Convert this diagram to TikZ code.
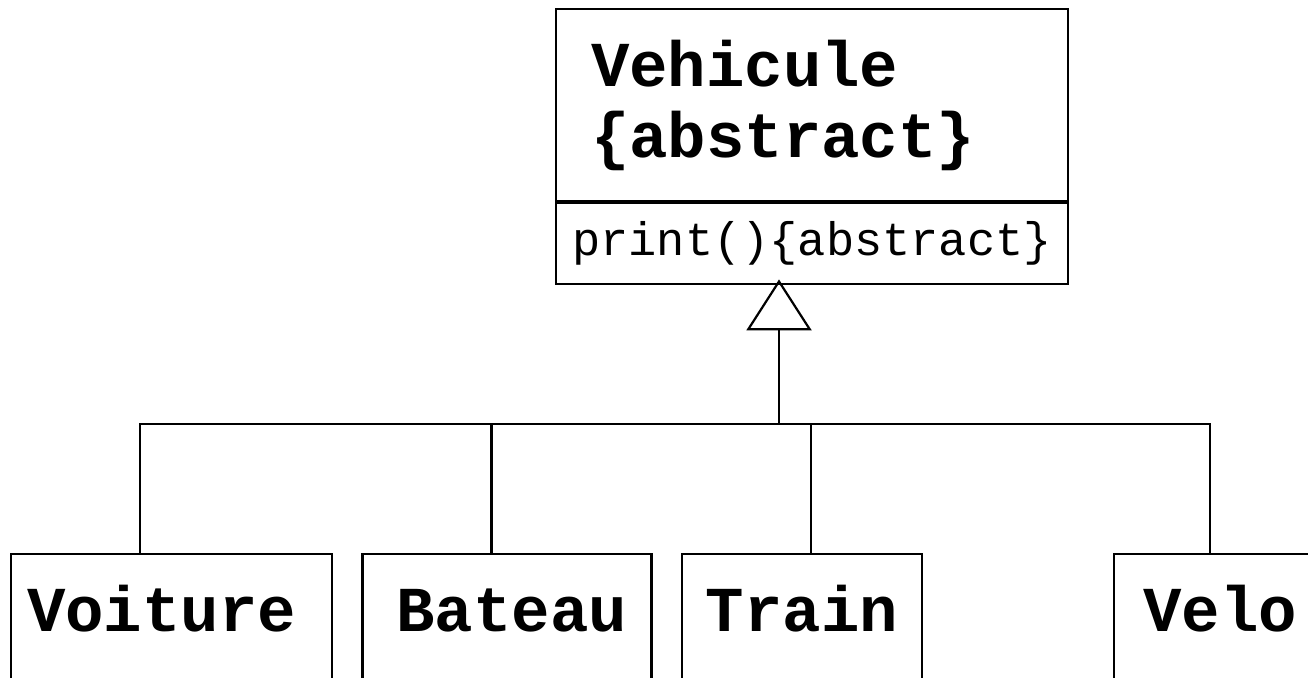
\documentclass[tikz,border=0pt]{standalone}
\usepackage{fontspec}
\setmonofont{Liberation Mono}
\usetikzlibrary{positioning,arrows.meta}

\begin{document}
\begin{tikzpicture}[x=0.5pt,y=-0.5pt,line width=1.1pt,
    classname/.style={draw,inner xsep=17.5pt,inner ysep=0pt,align=left,text width=221pt,
      minimum width=256pt,minimum height=96pt,font=\ttfamily\bfseries\fontsize{32}{35.5}\selectfont},
    classops/.style={draw,inner sep=0pt,minimum width=256pt,minimum height=40.5pt,
      font=\ttfamily\fontsize{23.5}{26}\selectfont},
    childbox/.style={draw,inner sep=0pt,text height=38.5pt,text depth=61.5pt,
      font=\ttfamily\bfseries\fontsize{32}{35.5}\selectfont},
    inherit/.style={-{Triangle[open,length=25.5pt,width=32.5pt]},shorten >=-3pt}]
  \useasboundingbox (0,0) rectangle (1308,678);
  \clip (0,0) rectangle (1308,678);

  \node[classname,anchor=north west] (vehicule) at (555,8) {Vehicule\\\{abstract\}};
  \node[classops,below=0pt of vehicule] (ops) {print()\{abstract\}};

  \node[childbox,align=left,inner xsep=8pt,text width=144.5pt,anchor=north west] (voiture) at (10,553) {Voiture};
  \node[childbox,align=left,inner xsep=17pt,text width=110.5pt,right=14.1pt of voiture] (bateau) {Bateau};
  \node[childbox,minimum width=120pt,right=14.1pt of bateau] (train) {Train};
  \node[childbox,minimum width=106pt,right=95.1pt of train] (velo) {Velo};

  \coordinate (hub) at (779,424);
  \draw[inherit] (hub) -- (hub |- ops.south);
  \draw ([xshift=-15.75pt]voiture.north) |- (hub);
  \draw ([xshift=-7.75pt]bateau.north) |- (hub);
  \draw ([xshift=4.5pt]train.north) |- (hub);
  \draw ([xshift=-5pt]velo.north) |- (hub);
\end{tikzpicture}
\end{document}
